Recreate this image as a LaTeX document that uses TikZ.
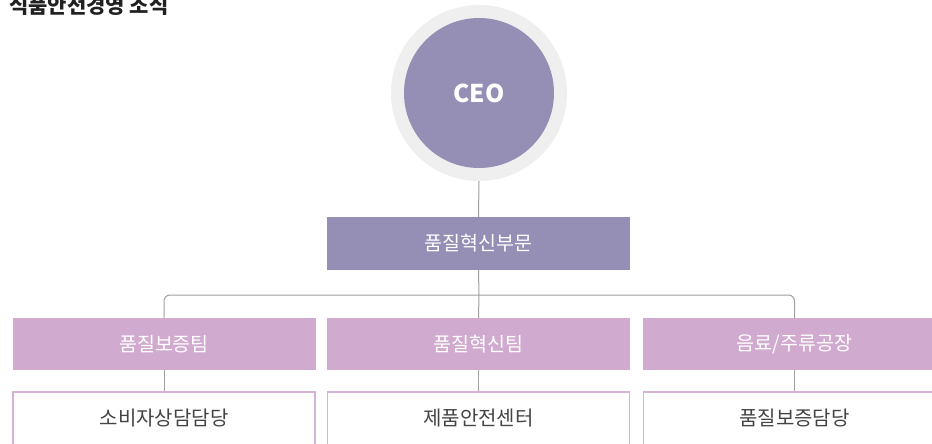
\documentclass[tikz,border=0pt]{standalone}
\usepackage{fontspec}
\setmainfont{Noto Sans CJK KR}
\definecolor{ceo}{HTML}{958FB6}
\definecolor{ring}{HTML}{EFEFEF}
\definecolor{team}{HTML}{D1AACF}
\definecolor{tborder}{HTML}{D6B3D4}
\definecolor{conn}{HTML}{A0A0A0}
\definecolor{dark}{HTML}{444444}
\tikzset{
  teambox/.style={fill=team, minimum width=303pt, minimum height=52pt, inner sep=0pt, text=white, font=\fontsize{19.5}{22}\selectfont},
  deptbox/.style={fill=ceo, minimum width=303pt, minimum height=53pt, inner sep=0pt, text=white, font=\fontsize{19.5}{22}\selectfont},
  unitbox/.style={draw=tborder, line width=1.3pt, fill=white, minimum width=302pt, minimum height=80pt, inner sep=0pt},
  unittext/.style={text=dark, font=\fontsize{20}{22}\selectfont, inner sep=0pt},
  link/.style={draw=conn, line width=1pt}
}
\begin{document}
\begin{tikzpicture}[x=1pt,y=-1pt]
\useasboundingbox (0,0) rectangle (932,444);
\clip (0,0) rectangle (932,444);
\fill[white] (0,0) rectangle (932,444);
% title
\node[anchor=west, inner sep=0pt, text=black!87, font=\fontsize{21}{24}\bfseries] (title) at (9,6) {식품안전경영 조식};
% CEO
\node[circle, fill=ring, minimum size=176pt, inner sep=0pt] (ring) at (479,93) {};
\node[circle, fill=ceo, minimum size=150pt, inner sep=0pt, text=white, font=\fontsize{24.5}{28}\bfseries] (ceo) at (479,93) {CEO};
% dept
\node[deptbox] (dept) at (478.5,243.5) {품질혁신부문};
% teams
\node[teambox] (t1) at (164,344) {품질보증팀};
\node[teambox] (t2) at (478.5,344) {품질혁신팀};
\node[teambox] (t3) at (794.5,344) {음료/주류공장};
% units
\node[unitbox] (u1) at (164,432) {};
\node[unitbox] (u2) at (478.5,432) {};
\node[unitbox] (u3) at (794.5,432) {};
\node[unittext] (u1t) at (164,418) {소비자상담담당};
\node[unittext] (u2t) at (478.5,418) {제품안전센터};
\node[unittext] (u3t) at (794.5,418) {품질보증담당};
% connectors
\coordinate (bar) at (479,295);
\draw[link] (ring.south) -- (dept.north);
\draw[link] (dept.south) -- (bar);
\draw[link, rounded corners=6pt] (t1.north) -- (t1.north |- bar) -- (t3.north |- bar) -- (t3.north);
\draw[link] (bar) -- (t2.north);
\draw[link] (t1.south) -- (u1.north);
\draw[link] (t2.south) -- (u2.north);
\draw[link] (t3.south) -- (u3.north);
\end{tikzpicture}
\end{document}
